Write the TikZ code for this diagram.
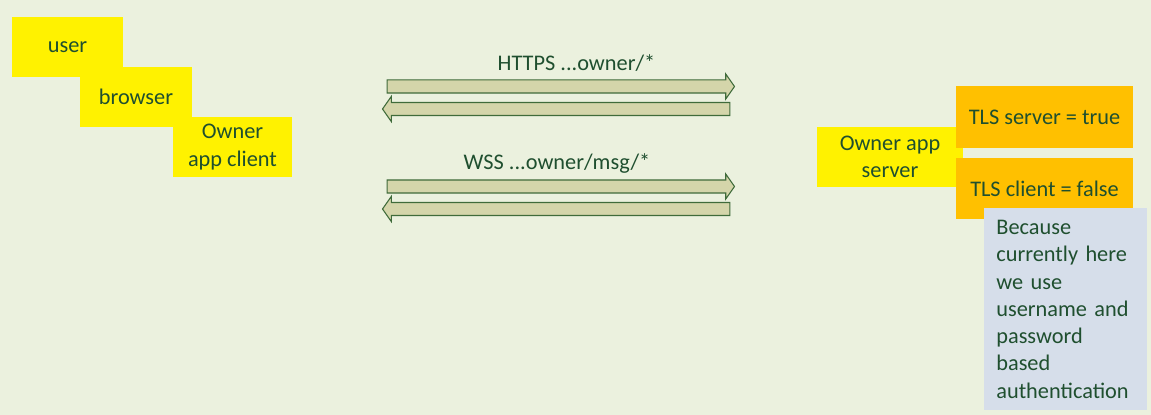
\documentclass[tikz,border=0pt]{standalone}
\usepackage{fontspec}
\setmainfont{Carlito}
\usetikzlibrary{shapes.arrows,positioning}
\definecolor{bgcol}{HTML}{EBF1DE}
\definecolor{txtcol}{HTML}{1F4F2F}
\definecolor{tlsorange}{HTML}{FFC000}
\definecolor{notecol}{HTML}{D6DEEA}
\definecolor{arrowfill}{HTML}{D4D5AA}
\definecolor{arrowline}{HTML}{3F6B3A}
\begin{document}
\begin{tikzpicture}[x=0.02cm, y=-0.02cm,
		font=\fontsize{12.7}{15.5}\selectfont, text=txtcol,
		yellowbox/.style={fill=yellow, align=center, inner sep=0pt, minimum height=1.2cm},
		tlsbox/.style={fill=tlsorange, inner sep=0pt, minimum width=3.54cm, minimum height=1.23cm},
		flow/.style={single arrow, draw=arrowline, fill=arrowfill, line width=0.6pt,
			minimum height=6.95cm, inner xsep=0pt, inner ysep=0.12cm,
			single arrow head extend=0.12cm, single arrow tip angle=110}]
	
	% Fondo
	\fill[bgcol] (0,0) rectangle (1151,415);
	\useasboundingbox (0,0) rectangle (1151,415);
	
	% Lado del cliente
	\node[yellowbox, minimum width=2.22cm] (user) at (67.5,47) {user};
	\node[yellowbox, minimum width=2.24cm] (browser) at (136,97) {browser};
	\node[yellowbox, minimum width=2.38cm] (client) at (232.5,147) {Owner\\app client};
	
	% Flechas HTTPS
	\node[flow] (httpsreq) at (558.5,86.5) {};
	\node[flow, shape border rotate=180] (httpsres) at (558.5,109) {};
	\node (httpslbl) at (576.5,63) {HTTPS ...owner/*};
	
	% Flechas WSS
	\node[flow] (wssreq) at (558.5,186.5) {};
	\node[flow, shape border rotate=180] (wssres) at (558.5,209) {};
	\node (wsslbl) at (557,163) {WSS ...owner/msg/*};
	
	% Lado del servidor
	\node[yellowbox, minimum width=2.92cm] (server) at (890,157) {Owner app\\server};
	\node[tlsbox] (tlsserver) at (1044.5,117) {TLS server = true};
	\node[tlsbox] (tlsclient) at (1044.5,188.5) {TLS client = false};
	
	% Nota
	\node[fill=notecol, anchor=north west, align=left, inner xsep=0.24cm, inner ysep=0pt,
		text width=2.78cm, minimum height=4.04cm] (note) at (984,208)
		{\fontsize{12.7}{15.5}\selectfont Because\\currently here\\we use\\username and\\password\\based\\authentication};
	
\end{tikzpicture}
\end{document}
